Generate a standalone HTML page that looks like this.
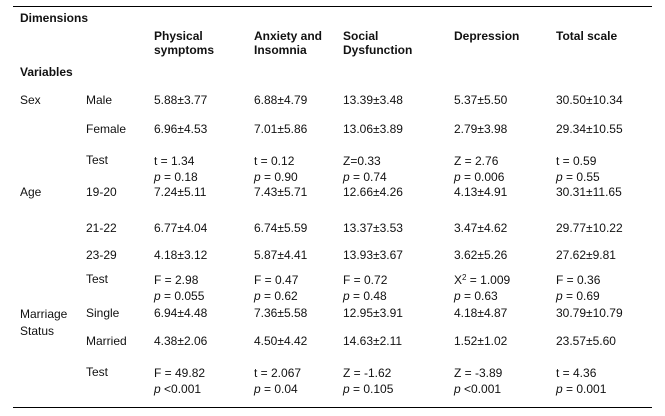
<!DOCTYPE html>
<html><head><meta charset="utf-8"><style>
html,body{margin:0;padding:0;background:#fff;}
#t{position:relative;width:665px;height:416px;font-family:"Liberation Sans",Arial,sans-serif;font-size:12px;color:#111;}
#t div{position:absolute;white-space:nowrap;line-height:14px;}
.b{font-weight:bold;}
.rule{height:0;border-top:1.5px solid #000;left:13px;width:639px;}
i{font-style:italic;}
sup{font-size:8px;vertical-align:4px;line-height:0;}
</style></head><body>
<div id="t">
<div class="rule" style="top:6px"></div>
<div class="rule" style="top:407px"></div>
<div class="b" style="left:20px;top:11px">Dimensions</div>
<div class="b" style="left:20px;top:65px">Variables</div>
<div class="b" style="left:154px;top:29px">Physical<br>symptoms</div>
<div class="b" style="left:254px;top:29px">Anxiety and<br>Insomnia</div>
<div class="b" style="left:343px;top:29px">Social<br>Dysfunction</div>
<div class="b" style="left:454px;top:29px">Depression</div>
<div class="b" style="left:556px;top:29px">Total scale</div>

<div style="left:20px;top:93px">Sex</div>
<div style="left:20px;top:185px">Age</div>
<div style="left:20px;top:306px;line-height:17px">Marriage<br>Status</div>

<div style="left:86px;top:93px">Male</div>
<div style="left:86px;top:122px">Female</div>
<div style="left:86px;top:153px">Test</div>
<div style="left:86px;top:185px">19-20</div>
<div style="left:86px;top:221px">21-22</div>
<div style="left:86px;top:248px">23-29</div>
<div style="left:86px;top:272px">Test</div>
<div style="left:86px;top:306px">Single</div>
<div style="left:86px;top:334px">Married</div>
<div style="left:86px;top:365px">Test</div>

<!-- Physical -->
<div style="left:154px;top:93px">5.88±3.77</div>
<div style="left:154px;top:122px">6.96±4.53</div>
<div style="left:154px;top:153px;line-height:16px">t = 1.34<br><i>p</i> = 0.18</div>
<div style="left:154px;top:185px">7.24±5.11</div>
<div style="left:154px;top:221px">6.77±4.04</div>
<div style="left:154px;top:248px">4.18±3.12</div>
<div style="left:154px;top:272px;line-height:16px">F = 2.98<br><i>p</i> = 0.055</div>
<div style="left:154px;top:306px">6.94±4.48</div>
<div style="left:154px;top:334px">4.38±2.06</div>
<div style="left:154px;top:365px;line-height:16px">F = 49.82<br><i>p</i> &lt;0.001</div>
<!-- Anxiety -->
<div style="left:254px;top:93px">6.88±4.79</div>
<div style="left:254px;top:122px">7.01±5.86</div>
<div style="left:254px;top:153px;line-height:16px">t = 0.12<br><i>p</i> = 0.90</div>
<div style="left:254px;top:185px">7.43±5.71</div>
<div style="left:254px;top:221px">6.74±5.59</div>
<div style="left:254px;top:248px">5.87±4.41</div>
<div style="left:254px;top:272px;line-height:16px">F = 0.47<br><i>p</i> = 0.62</div>
<div style="left:254px;top:306px">7.36±5.58</div>
<div style="left:254px;top:334px">4.50±4.42</div>
<div style="left:254px;top:365px;line-height:16px">t = 2.067<br><i>p</i> = 0.04</div>
<!-- Social -->
<div style="left:343px;top:93px">13.39±3.48</div>
<div style="left:343px;top:122px">13.06±3.89</div>
<div style="left:343px;top:153px;line-height:16px">Z=0.33<br><i>p</i> = 0.74</div>
<div style="left:343px;top:185px">12.66±4.26</div>
<div style="left:343px;top:221px">13.37±3.53</div>
<div style="left:343px;top:248px">13.93±3.67</div>
<div style="left:343px;top:272px;line-height:16px">F = 0.72<br><i>p</i> = 0.48</div>
<div style="left:343px;top:306px">12.95±3.91</div>
<div style="left:343px;top:334px">14.63±2.11</div>
<div style="left:343px;top:365px;line-height:16px">Z = -1.62<br><i>p</i> = 0.105</div>
<!-- Depression -->
<div style="left:454px;top:93px">5.37±5.50</div>
<div style="left:454px;top:122px">2.79±3.98</div>
<div style="left:454px;top:153px;line-height:16px">Z = 2.76<br><i>p</i> = 0.006</div>
<div style="left:454px;top:185px">4.13±4.91</div>
<div style="left:454px;top:221px">3.47±4.62</div>
<div style="left:454px;top:248px">3.62±5.26</div>
<div style="left:454px;top:272px;line-height:16px">X<sup>2</sup> = 1.009<br><i>p</i> = 0.63</div>
<div style="left:454px;top:306px">4.18±4.87</div>
<div style="left:454px;top:334px">1.52±1.02</div>
<div style="left:454px;top:365px;line-height:16px">Z = -3.89<br><i>p</i> &lt;0.001</div>
<!-- Total -->
<div style="left:556px;top:93px">30.50±10.34</div>
<div style="left:556px;top:122px">29.34±10.55</div>
<div style="left:556px;top:153px;line-height:16px">t = 0.59<br><i>p</i> = 0.55</div>
<div style="left:556px;top:185px">30.31±11.65</div>
<div style="left:556px;top:221px">29.77±10.22</div>
<div style="left:556px;top:248px">27.62±9.81</div>
<div style="left:556px;top:272px;line-height:16px">F = 0.36<br><i>p</i> = 0.69</div>
<div style="left:556px;top:306px">30.79±10.79</div>
<div style="left:556px;top:334px">23.57±5.60</div>
<div style="left:556px;top:365px;line-height:16px">t = 4.36<br><i>p</i> = 0.001</div>
</div>
</body></html>
